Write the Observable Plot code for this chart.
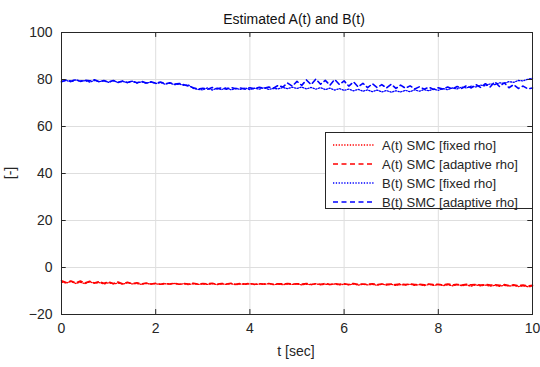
<!DOCTYPE html>
<html>
<head>
<meta charset="utf-8">
<script src="https://cdn.jsdelivr.net/npm/d3@7"></script>
<script src="https://cdn.jsdelivr.net/npm/@observablehq/plot@0.6"></script>
<style>
  html, body { margin: 0; padding: 0; background: #fff; }
  #chart svg { display: block; }
</style>
</head>
<body>
<div id="chart"></div>
<script>
const title = "Estimated A(t) and B(t)";
const xLabel = "t [sec]";
const yLabel = "[-]";
const xTicks = [0, 2, 4, 6, 8, 10];
const yTicks = [-20, 0, 20, 40, 60, 80, 100];
const seriesNames = ["A(t) SMC [fixed rho]", "A(t) SMC [adaptive rho]", "B(t) SMC [fixed rho]", "B(t) SMC [adaptive rho]"];

// time samples (sec), step 0.1
const t = [0,0.1,0.2,0.3,0.4,0.5,0.6,0.7,0.8,0.9,1,1.1,1.2,1.3,1.4,1.5,1.6,1.7,1.8,1.9,2,2.1,2.2,2.3,2.4,2.5,2.6,2.7,2.8,2.9,3,3.1,3.2,3.3,3.4,3.5,3.6,3.7,3.8,3.9,4,4.1,4.2,4.3,4.4,4.5,4.6,4.7,4.8,4.9,5,5.1,5.2,5.3,5.4,5.5,5.6,5.7,5.8,5.9,6,6.1,6.2,6.3,6.4,6.5,6.6,6.7,6.8,6.9,7,7.1,7.2,7.3,7.4,7.5,7.6,7.7,7.8,7.9,8,8.1,8.2,8.3,8.4,8.5,8.6,8.7,8.8,8.9,9,9.1,9.2,9.3,9.4,9.5,9.6,9.7,9.8,9.9,10];

const aFixed = [
  -6.2,-6.6,-6.0,-6.8,-6.3,-6.9,-6.1,-6.7,-6.4,-7.0,
  -6.5,-7.0,-6.6,-7.1,-6.5,-7.0,-6.8,-7.2,-6.8,-7.1,
  -6.9,-7.2,-6.9,-7.1,-6.8,-7.2,-6.9,-7.3,-6.9,-7.2,
  -7.0,-7.2,-6.9,-7.3,-7.0,-7.2,-6.9,-7.3,-7.0,-7.2,
  -6.9,-7.3,-7.0,-7.2,-6.9,-7.3,-7.1,-7.3,-7.0,-7.2,
  -7.0,-7.4,-7.1,-7.3,-6.9,-7.4,-7.1,-7.3,-7.0,-7.4,
  -7.1,-7.4,-7.0,-7.5,-7.1,-7.4,-7.2,-7.6,-7.1,-7.5,
  -7.2,-7.6,-7.3,-7.5,-7.1,-7.6,-7.3,-7.7,-7.2,-7.6,
  -7.3,-7.7,-7.4,-7.8,-7.3,-7.7,-7.5,-7.9,-7.4,-7.8,
  -7.5,-7.9,-7.6,-8.0,-7.6,-7.9,-7.7,-8.1,-7.8,-8.2,-8.0
];
const aAdaptive = [
  -5.6,-6.4,-5.7,-6.5,-5.8,-6.5,-5.9,-6.6,-6.0,-6.7,
  -6.1,-6.8,-6.2,-6.9,-6.3,-6.9,-6.5,-7.0,-6.6,-7.0,
  -6.7,-7.1,-6.8,-7.0,-6.7,-7.1,-6.8,-7.0,-6.7,-7.1,
  -6.8,-7.0,-6.7,-7.1,-6.8,-7.0,-6.7,-7.1,-6.8,-7.0,
  -6.8,-7.1,-6.9,-7.0,-6.8,-7.1,-6.9,-7.0,-6.8,-7.1,
  -6.9,-7.1,-6.8,-7.2,-6.9,-7.1,-6.8,-7.2,-6.9,-7.1,
  -6.9,-7.2,-6.8,-7.2,-7.0,-7.2,-6.9,-7.3,-7.0,-7.2,
  -7.0,-7.3,-6.9,-7.3,-7.0,-7.3,-7.1,-7.4,-7.0,-7.3,
  -7.1,-7.4,-7.0,-7.4,-7.2,-7.5,-7.1,-7.4,-7.2,-7.5,
  -7.2,-7.5,-7.3,-7.6,-7.3,-7.7,-7.4,-7.7,-7.5,-7.8,-7.6
];
const bFixed = [
  79.2,79.6,79.0,79.8,79.3,79.5,78.9,79.6,79.1,79.4,
  78.8,79.5,78.7,79.2,78.6,79.3,78.5,79.0,78.4,78.9,
  78.3,78.7,78.0,78.4,77.8,78.1,77.5,77.6,76.2,75.8,
  75.6,76.4,75.5,76.3,75.7,76.5,75.6,76.2,75.8,76.4,
  75.7,76.3,75.9,76.5,75.8,76.2,76.0,76.6,76.1,76.7,
  76.2,76.8,76.0,76.6,75.9,76.5,75.7,76.3,75.5,76.1,
  75.4,75.9,75.2,75.8,75.0,75.6,74.8,75.5,74.7,75.3,
  74.6,75.2,74.7,75.4,74.8,75.6,75.0,75.7,75.2,75.9,
  75.4,76.1,75.7,76.4,76.0,76.8,76.4,77.2,76.8,77.6,
  77.3,78.1,77.8,78.6,78.3,79.1,78.8,79.6,79.4,80.1,80.5
];
const bAdaptive = [
  79.0,79.8,79.3,80.0,79.2,79.7,79.4,79.9,79.0,79.6,
  78.9,79.6,78.8,79.4,78.7,79.3,78.6,79.2,78.5,79.0,
  78.4,78.9,78.2,78.6,78.0,78.3,77.8,77.2,76.5,76.0,
  76.3,75.8,76.6,76.0,76.5,75.9,76.6,76.1,76.4,75.9,
  76.5,76.0,76.7,76.2,76.8,76.3,77.5,76.8,78.5,77.2,
  79.2,77.5,79.8,77.8,80.2,78.0,79.6,77.6,80.0,77.9,
  79.4,77.2,79.0,76.8,78.4,76.5,78.2,76.6,77.8,76.4,
  78.0,76.2,77.6,76.3,77.3,76.0,76.9,75.9,76.7,75.8,
  76.5,75.9,76.8,76.0,77.0,76.2,77.4,76.4,77.8,76.6,
  78.2,76.8,79.0,77.0,78.6,76.5,77.8,76.2,77.2,76.0,76.4
];

const styles = [
  {color: "#ff0000", dash: "1.3,1.5", width: 1.3},
  {color: "#ff0000", dash: "5,3.5", width: 1.6},
  {color: "#0000ff", dash: "1.3,1.5", width: 1.3},
  {color: "#0000ff", dash: "5,3.5", width: 1.6}
];
const seriesValues = [aFixed, aAdaptive, bFixed, bAdaptive];

const W = 540, H = 367;
const font = "'Liberation Sans', Arial, Helvetica, sans-serif";

const lineMarks = seriesValues.map((vals, i) =>
  Plot.line(t.map((tt, j) => ({t: tt, v: vals[j]})), {
    x: "t", y: "v",
    stroke: styles[i].color,
    strokeWidth: styles[i].width,
    strokeDasharray: styles[i].dash
  })
);

const chart = Plot.plot({
  width: W, height: H,
  marginLeft: 61, marginRight: 8, marginTop: 32, marginBottom: 53,
  style: {fontFamily: font, fontSize: "14px", background: "#fff", color: "#262626"},
  x: {domain: [0, 10], ticks: xTicks, label: null},
  y: {domain: [-20, 100], ticks: yTicks, label: null},
  marks: [
    Plot.gridX(xTicks, {stroke: "#dedede", strokeOpacity: 1}),
    Plot.gridY(yTicks, {stroke: "#dedede", strokeOpacity: 1}),
    ...lineMarks,
    Plot.ruleX(xTicks, {y1: -20, y2: -17.9, stroke: "#262626"}),
    Plot.ruleX(xTicks, {y1: 100, y2: 97.9, stroke: "#262626"}),
    Plot.ruleY(yTicks, {x1: 0, x2: 0.1, stroke: "#262626"}),
    Plot.ruleY(yTicks, {x1: 10, x2: 9.9, stroke: "#262626"}),
    Plot.frame({stroke: "#262626", strokeWidth: 1}),
    Plot.axisX(xTicks, {tickSize: 0, tickPadding: 9, fontSize: 14, fill: "#262626", label: null}),
    Plot.axisY(yTicks, {tickSize: 0, tickPadding: 9, fontSize: 14, fill: "#262626", label: null})
  ]
});

const svg = d3.select(chart);
svg.append("text").attr("x", 294).attr("y", 24).attr("text-anchor", "middle")
  .attr("font-size", 14).attr("fill", "#111").attr("font-family", font).text(title);
svg.append("text").attr("x", 296).attr("y", 356).attr("text-anchor", "middle")
  .attr("font-size", 14).attr("fill", "#262626").attr("font-family", font).text(xLabel);
svg.append("text").attr("transform", "translate(15,173) rotate(-90)").attr("text-anchor", "middle")
  .attr("font-size", 14).attr("fill", "#262626").attr("font-family", font).text(yLabel);

// legend
const lg = svg.append("g").attr("font-family", font).attr("font-size", 13).attr("text-anchor", "start");
lg.append("rect").attr("x", 325.5).attr("y", 132.5).attr("width", 207).attr("height", 76)
  .attr("fill", "#fff").attr("stroke", "#262626").attr("stroke-width", 1);
const rowY = [145, 164, 183, 202];
seriesNames.forEach((name, i) => {
  lg.append("line").attr("x1", 333).attr("x2", 375).attr("y1", rowY[i]).attr("y2", rowY[i])
    .attr("stroke", styles[i].color).attr("stroke-width", styles[i].width)
    .attr("stroke-dasharray", styles[i].dash);
  lg.append("text").attr("x", 382).attr("y", rowY[i]).attr("dy", "0.35em")
    .attr("text-anchor", "start").attr("fill", "#262626").text(name);
});

document.getElementById("chart").appendChild(chart);
</script>
</body>
</html>
